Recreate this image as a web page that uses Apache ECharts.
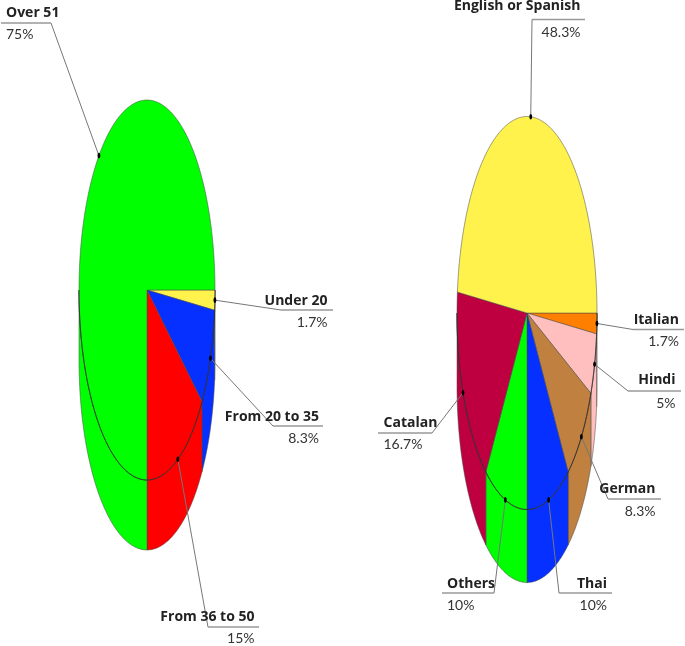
<!DOCTYPE html>
<html>
<head>
<meta charset="utf-8">
<style>html,body{margin:0;padding:0;background:#fff}#c{width:685px;height:646px;filter:blur(0.35px)}</style>
<script src="https://cdn.jsdelivr.net/npm/echarts@6/dist/echarts.min.js"></script>
</head>
<body>
<div id="c"></div>
<script>
// ---- data ----
const ageNames = ['Under 20', 'From 20 to 35', 'From 36 to 50', 'Over 51'];
const ageValues = [1.7, 8.3, 15, 75];
const ageColors = ['#fff24d', '#0530ff', '#ff0000', '#00ff00'];

const langNames = ['Italian', 'Hindi', 'German', 'Thai', 'Others', 'Catalan', 'English or Spanish'];
const langValues = [1.7, 5, 8.3, 10, 10, 16.7, 48.3];
const langColors = ['#ff8000', '#ffbfbf', '#bf8040', '#0530ff', '#00ff00', '#bf0040', '#fff24d'];

// ---- layout ----
const agePie = { cx: 147, cy: 290, rx: 68, ry: 190, depth: 70 };
const langPie = { cx: 527, cy: 313, rx: 70, ry: 196.5, depth: 73 };

// elbow x,y; underline end x; text x; text align; name y; percent y
const ageLabels = [
  [281, 310, 333, 327.5, 'right', 301.5, 322],
  [273, 426, 323, 319, 'right', 417, 438],
  [208, 627, 259, 254.5, 'right', 617.5, 638],
  [51, 23, 1, 6, 'left', 13.5, 34]
];
const langLabels = [
  [633, 329.5, 684, 679, 'right', 320, 341],
  [628, 391, 681, 675.5, 'right', 380.5, 403],
  [608, 499, 661, 655.5, 'right', 489.5, 511],
  [559, 593, 612, 607, 'right', 584, 605],
  [494, 593, 442, 447, 'left', 584, 605],
  [432, 433, 378, 383.5, 'left', 423.5, 444],
  [532, 19.5, 585, 580.5, 'right', 6.5, 32]
];

const NAME_FONT = 'bold 14px "Open Sans", sans-serif';
const PCT_FONT = '14px Lato, sans-serif';
const TEXT_COLOR = '#222';
const EDGE = '#444';

function startAngle(values, i) {
  let s = 0;
  for (let k = 0; k < i; k++) s += values[k];
  return s * 3.6 * Math.PI / 180;
}
function rimPoint(c, r, a) {
  return [c[0] + r[0] * Math.cos(a), c[1] + r[1] * Math.sin(a)];
}
function arc(c, r, a0, a1) {
  const n = Math.max(2, Math.ceil((a1 - a0) / 0.02));
  const pts = [];
  for (let i = 0; i <= n; i++) pts.push(rimPoint(c, r, a0 + (a1 - a0) * i / n));
  return pts;
}
function metrics(api, pie) {
  const c = api.coord([pie.cx, pie.cy]);
  const s = api.size([pie.rx, pie.ry]);
  const d = api.size([0, pie.depth])[1];
  return { c, r: [s[0], s[1]], d };
}

function sliceSeries(values, colors, pie) {
  return {
    type: 'custom',
    coordinateSystem: 'cartesian2d',
    silent: true,
    clip: false,
    z: 2,
    data: values.map((v, i) => [i, v]),
    renderItem(params, api) {
      const i = api.value(0);
      const m = metrics(api, pie);
      const a0 = startAngle(values, i);
      const a1 = a0 + api.value(1) * 3.6 * Math.PI / 180;
      const children = [];
      const w0 = Math.min(a0, Math.PI), w1 = Math.min(a1, Math.PI);
      if (w1 > w0) {
        const top = arc(m.c, m.r, w0, w1);
        const bottom = arc([m.c[0], m.c[1] + m.d], m.r, w0, w1).reverse();
        children.push({
          type: 'polygon',
          shape: { points: top.concat(bottom) },
          style: { fill: colors[i], stroke: EDGE, lineWidth: 0.5 }
        });
      }
      children.push({
        type: 'polygon',
        shape: { points: [m.c].concat(arc(m.c, m.r, a0, a1)) },
        style: { fill: colors[i], stroke: EDGE, lineWidth: 0.5 }
      });
      return { type: 'group', children };
    }
  };
}

function rimSeries(pie) {
  return {
    type: 'custom',
    coordinateSystem: 'cartesian2d',
    silent: true,
    clip: false,
    z: 3,
    data: [[0, 0]],
    renderItem(params, api) {
      const m = metrics(api, pie);
      return {
        type: 'polyline',
        shape: { points: arc(m.c, m.r, 0, Math.PI) },
        style: { fill: null, stroke: '#222', lineWidth: 0.7 }
      };
    }
  };
}

function labelSeries(names, values, pie, layout) {
  return {
    type: 'custom',
    coordinateSystem: 'cartesian2d',
    silent: true,
    clip: false,
    z: 4,
    data: values.map((v, i) => [i, v]),
    renderItem(params, api) {
      const i = api.value(0);
      const v = api.value(1);
      const m = metrics(api, pie);
      const mid = startAngle(values, i) + v * 1.8 * Math.PI / 180;
      const p = rimPoint(m.c, m.r, mid);
      const l = layout[i];
      const elbow = api.coord([l[0], l[1]]);
      const end = api.coord([l[2], l[1]]);
      const tx = api.coord([l[3], 0])[0];
      return {
        type: 'group',
        children: [
          { type: 'polyline', shape: { points: [p, elbow] },
            style: { fill: null, stroke: '#777', lineWidth: 1 } },
          { type: 'polyline', shape: { points: [elbow, end] },
            style: { fill: null, stroke: '#999', lineWidth: 1.3 } },
          { type: 'ellipse', shape: { cx: p[0], cy: p[1], rx: 1.4, ry: 2.8 },
            style: { fill: '#000' } },
          { type: 'text', x: tx, y: api.coord([0, l[5]])[1],
            style: { text: names[i], font: NAME_FONT, fill: TEXT_COLOR, align: l[4], verticalAlign: 'middle' } },
          { type: 'text', x: tx, y: api.coord([0, l[6]])[1],
            style: { text: v + '%', font: PCT_FONT, fill: '#333', align: l[4], verticalAlign: 'middle' } }
        ]
      };
    }
  };
}

const chart = echarts.init(document.getElementById('c'));
chart.setOption({
  animation: false,
  backgroundColor: '#fff',
  grid: { left: 0, top: 0, right: 0, bottom: 0 },
  xAxis: { type: 'value', min: 0, max: 685, show: false },
  yAxis: { type: 'value', min: 0, max: 646, inverse: true, show: false },
  series: [
    sliceSeries(ageValues, ageColors, agePie),
    rimSeries(agePie),
    labelSeries(ageNames, ageValues, agePie, ageLabels),
    sliceSeries(langValues, langColors, langPie),
    rimSeries(langPie),
    labelSeries(langNames, langValues, langPie, langLabels)
  ]
});
</script>
</body>
</html>
